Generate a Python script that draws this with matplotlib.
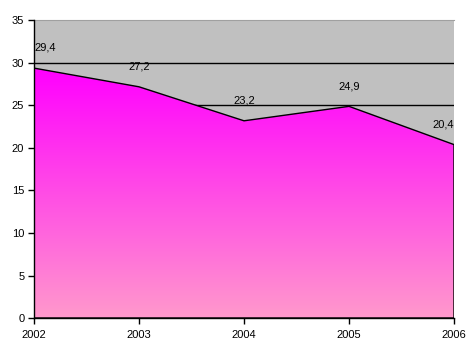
import numpy as np
import matplotlib
matplotlib.use("Agg")
import matplotlib.pyplot as plt
from matplotlib.patches import Polygon

plt.rcParams['font.family'] = ['Liberation Sans', 'DejaVu Sans']

years = ['2002', '2003', '2004', '2005', '2006']
values = [29.4, 27.2, 23.2, 24.9, 20.4]
labels = ['29,4', '27,2', '23,2', '24,9', '20,4']

fig = plt.figure(figsize=(4.72, 3.59), dpi=100)
ax = fig.add_axes([34 / 472, 1 - 318 / 359, (454 - 34) / 472, (318 - 20.5) / 359])
ax.set_facecolor('#C0C0C0')

x = np.arange(len(years))
ax.set_xlim(0, len(years) - 1)
ax.set_ylim(0, 35)

for g in range(5, 35, 5):
    ax.axhline(g, color='black', lw=1, zorder=1)

# gradient fill under the line
top = np.array([255, 0, 255]) / 255.
bot = np.array([255, 153, 204]) / 255.
t = np.linspace(0, 1, 256)[:, None]
grad = (bot * (1 - t) + top * t)[:, None, :]
grad = np.repeat(grad, 2, axis=1)
ymax = max(values)
im = ax.imshow(grad, extent=[0, len(years) - 1, 0, ymax], origin='lower',
               aspect='auto', zorder=2, interpolation='bilinear')
verts = [(0, 0)] + list(zip(x, values)) + [(len(years) - 1, 0)]
poly = Polygon(verts, closed=True, facecolor='none', edgecolor='black', lw=1, zorder=3)
ax.add_patch(poly)
im.set_clip_path(poly)

for i, (v, lab) in enumerate(zip(values, labels)):
    ha = 'center'
    if i == 0:
        ha = 'left'
    elif i == len(values) - 1:
        ha = 'right'
    ax.annotate(lab, (i, v), xytext=(0, 11), textcoords='offset points',
                ha=ha, va='bottom', fontsize=8, zorder=4)

ax.set_xticks(x)
ax.set_xticklabels(years)
ax.set_yticks(range(0, 36, 5))
ax.tick_params(direction='out', length=4, width=1, labelsize=8, color='black')
ax.tick_params(axis='x', pad=5)
ax.tick_params(axis='y', pad=3)
ax.spines['top'].set_color('#A0A0A0')
ax.spines['right'].set_visible(False)
for s in ['left', 'bottom']:
    ax.spines[s].set_linewidth(1)
    ax.spines[s].set_zorder(5)

fig.savefig('out.png', dpi=100)
